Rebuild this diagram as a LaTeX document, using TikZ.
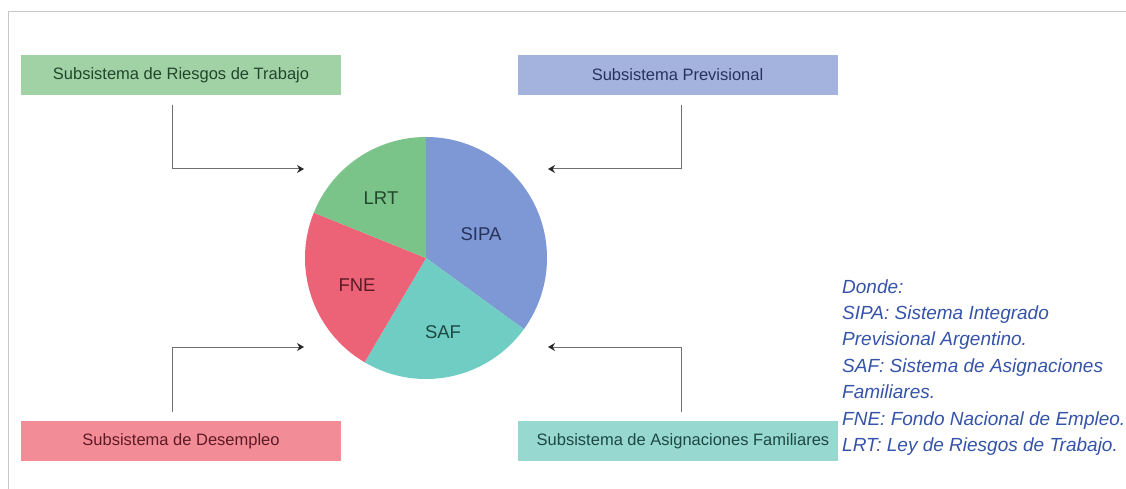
\documentclass[tikz,border=0pt]{standalone}
\usepackage{fontspec}
\setmainfont{Liberation Sans}
\usetikzlibrary{arrows.meta}
\definecolor{gPie}{HTML}{7AC48A}
\definecolor{bPie}{HTML}{7D98D4}
\definecolor{rPie}{HTML}{EC6277}
\definecolor{tPie}{HTML}{6FCDC3}
\definecolor{gBox}{HTML}{A0D2A6}
\definecolor{bBox}{HTML}{A3B3DE}
\definecolor{rBox}{HTML}{F28C97}
\definecolor{tBox}{HTML}{97D8D1}
\definecolor{gTxt}{HTML}{22472A}
\definecolor{bTxt}{HTML}{28335C}
\definecolor{rTxt}{HTML}{5E1A26}
\definecolor{tTxt}{HTML}{1E4844}
\definecolor{legTxt}{HTML}{3553A8}
\definecolor{frameC}{HTML}{C8C8C8}
\definecolor{lineC}{HTML}{707070}
\tikzset{
  subbox/.style={minimum width=320pt, minimum height=40pt, inner sep=0pt, font=\fontsize{16.5}{19}\selectfont},
  pielabel/.style={font=\fontsize{18.5}{21}\selectfont, inner sep=0pt},
  legline/.style={anchor=base west, inner sep=0pt, text=legTxt, font=\fontsize{19}{22}\selectfont\itshape},
  conn/.style={draw=lineC, line width=1pt, -{Stealth[length=7pt,width=8pt,color=black!85]}}
}
\begin{document}
\begin{tikzpicture}[x=1pt,y=-1pt]
\useasboundingbox (0,0) rectangle (1126,489);
% frame
\draw[frameC, line width=1.2pt] (8.3,489) -- (8.3,11.5) -- (1126,11.5);
% boxes
\node[subbox, fill=gBox, text=gTxt] (tl) at (181,75) {Subsistema de Riesgos de Trabajo};
\node[subbox, fill=bBox, text=bTxt] (tr) at (677.5,75) {Subsistema Previsional};
\node[subbox, fill=rBox, text=rTxt] (bl) at (181,441) {Subsistema de Desempleo};
\node[subbox, fill=tBox, text=tTxt] (br) at (677.5,441) {};
\node[subbox, text=tTxt] (brt) at (683,441) {Subsistema de Asignaciones Familiares};
% pie
\coordinate (c) at (426,258);
\fill[bPie] (c) -- ++(-90:121) arc (-90:36:121) -- cycle;
\fill[tPie] (c) -- ++(36:121) arc (36:120.5:121) -- cycle;
\fill[rPie] (c) -- ++(120.5:121) arc (120.5:202:121) -- cycle;
\fill[gPie] (c) -- ++(202:121) arc (202:270:121) -- cycle;
\node[pielabel, text=gTxt] (lrt) at (381,198) {LRT};
\node[pielabel, text=bTxt] (sipa) at (481,234) {SIPA};
\node[pielabel, text=rTxt] (fne) at (357,285) {FNE};
\node[pielabel, text=tTxt] (saf) at (443,332) {SAF};
% connectors
\coordinate (tlS) at (172,105); \coordinate (tlE) at (304,169);
\coordinate (trS) at (681,105); \coordinate (trE) at (548,169);
\coordinate (blS) at (172,412); \coordinate (blE) at (304,347);
\coordinate (brS) at (681,412); \coordinate (brE) at (548,347);
\draw[conn] (tlS) |- (tlE);
\draw[conn] (trS) |- (trE);
\draw[conn] (blS) |- (blE);
\draw[conn] (brS) |- (brE);
% legend
\node[legline] (l1) at (842,293) {Donde:};
\node[legline] (l2) at (842,319.4) {SIPA: Sistema Integrado};
\node[legline] (l3) at (842,345.8) {Previsional Argentino.};
\node[legline] (l4) at (842,372.2) {SAF: Sistema de Asignaciones};
\node[legline] (l5) at (842,398.6) {Familiares.};
\node[legline] (l6) at (842,425) {FNE: Fondo Nacional de Empleo.};
\node[legline] (l7) at (842,451.4) {LRT: Ley de Riesgos de Trabajo.};
\end{tikzpicture}
\end{document}
